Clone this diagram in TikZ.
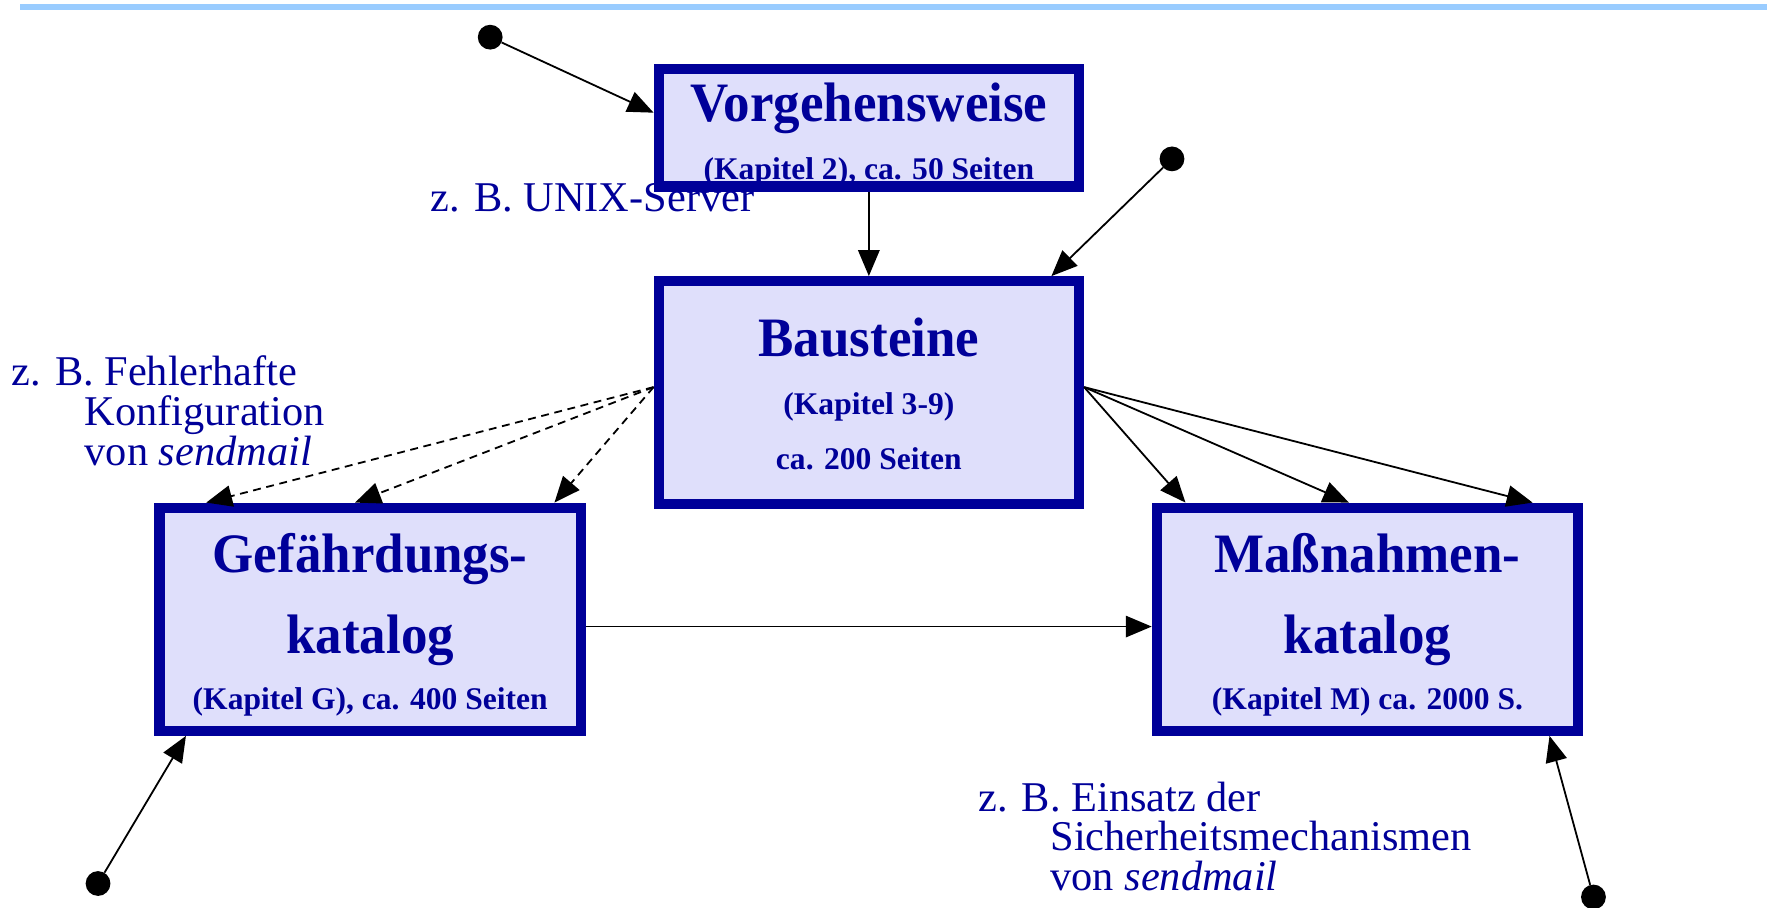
\documentclass[tikz,border=0pt]{standalone}
\usepackage{fontspec}
\setmainfont{Liberation Serif}
\usetikzlibrary{arrows.meta}
\definecolor{bsiblue}{RGB}{0,0,153}
\definecolor{boxfill}{RGB}{223,223,251}
\definecolor{topblue}{RGB}{153,204,255}
\begin{document}
\begin{tikzpicture}[x=1pt,y=-1pt,
  box/.style={draw=bsiblue, line width=9pt, fill=boxfill, inner sep=0pt},
  big/.style={anchor=base, inner sep=0pt, text=bsiblue, font=\fontsize{47}{47}\selectfont\bfseries, yscale=1.05},
  small/.style={anchor=base, inner sep=0pt, text=bsiblue, font=\fontsize{28}{28}\selectfont\bfseries},
  lbl/.style={anchor=base west, inner sep=0pt, text=bsiblue, font=\fontsize{37.6}{35.5}\selectfont},
  dot/.style={circle, fill=black, minimum size=22pt, inner sep=0pt},
  arr/.style={-{Triangle[length=23pt,width=19pt]}, line width=1.6pt},
  darr/.style={arr, dash pattern=on 7pt off 5pt}]
\useasboundingbox (0,0) rectangle (1568,805);
\draw[line width=5pt, color=topblue] (18,6) -- (1568,6);

% boxes
\node[box, minimum width=373pt, minimum height=104pt] (vor) at (771,113.5) {};
\node[box, minimum width=373pt, minimum height=198pt] (bau) at (771,348.5) {};
\node[box, minimum width=374pt, minimum height=198pt] (gef) at (328.5,549.5) {};
\node[box, minimum width=374pt, minimum height=198pt] (mas) at (1213.5,549.5) {};

% box texts
\node[big]   (vor1) at (771,108) {Vorgehensweise};
\node[small] (vor2) at (771,159) {(Kapitel 2), ca. 50 Seiten};
\node[big]   (bau1) at (771,316) {Bausteine};
\node[small] (bau2) at (771,368) {(Kapitel 3-9)};
\node[small] (bau3) at (771,417) {ca. 200 Seiten};
\node[big]   (gef1) at (328.5,508) {Gefährdungs-};
\node[big]   (gef2) at (328.5,580) {katalog};
\node[small] (gef3) at (328.5,630) {(Kapitel G), ca. 400 Seiten};
\node[big]   (mas1) at (1213.5,508) {Maßnahmen-};
\node[big]   (mas2) at (1213.5,580) {katalog};
\node[small] (mas3) at (1213.5,630) {(Kapitel M) ca. 2000 S.};

% dots
\node[dot] (d1) at (435,33) {};
\node[dot] (d2) at (1040,141) {};
\node[dot] (d3) at (87,784) {};
\node[dot] (d4) at (1414,796) {};

% connectors
\draw[arr] (d1) -- ([yshift=13.5pt]vor.west);
\draw[arr] (vor.south) -- (bau.north);
\draw[arr] (d2) -- ([xshift=162pt]bau.north);
\draw[darr] ([yshift=5pt]bau.west) -- ([xshift=-145.5pt]gef.north);
\draw[darr] ([yshift=5pt]bau.west) -- ([xshift=-13.5pt]gef.north);
\draw[darr] ([yshift=5pt]bau.west) -- ([xshift=163.5pt]gef.north);
\draw[arr] ([yshift=5pt]bau.east) -- ([xshift=-161.5pt]mas.north);
\draw[arr] ([yshift=5pt]bau.east) -- ([xshift=-16.5pt]mas.north);
\draw[arr] ([yshift=5pt]bau.east) -- ([xshift=146.5pt]mas.north);
\draw[arr] ([yshift=-6.5pt]gef.east) -- ([yshift=-6.5pt]mas.west);
\draw[arr] (d3) -- ([xshift=-163.5pt]gef.south);
\draw[arr] (d4) -- ([xshift=161.5pt]mas.south);

% labels
\node[lbl] (lu) at (382,188) {z. B. UNIX-Server};
\node[lbl] (lf1) at (10,342) {z. B. Fehlerhafte};
\node[lbl] (lf2) at (75,378) {Konfiguration};
\node[lbl] (lf3) at (75,413) {von \textit{sendmail}};
\node[lbl] (le1) at (868,720) {z. B. Einsatz der};
\node[lbl] (le2) at (932,755) {Sicherheitsmechanismen};
\node[lbl] (le3) at (932,790) {von \textit{sendmail}};
\end{tikzpicture}
\end{document}
